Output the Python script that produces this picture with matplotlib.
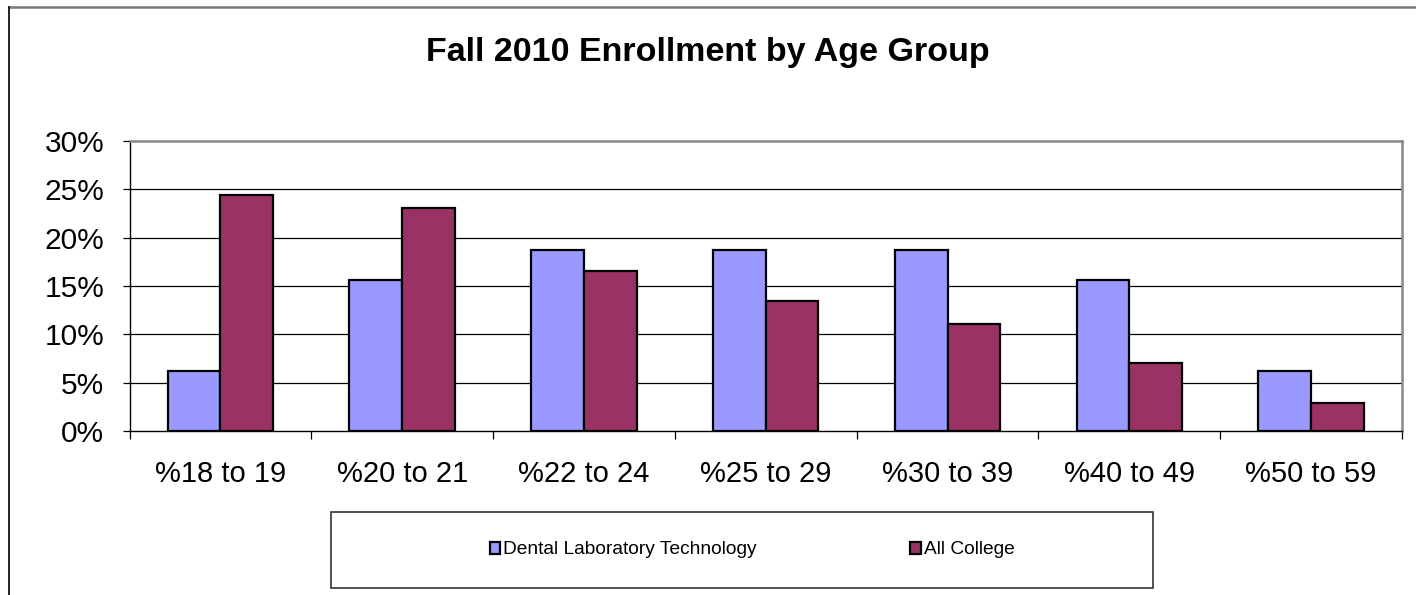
import matplotlib
matplotlib.use("Agg")
import matplotlib.pyplot as plt
import numpy as np
from matplotlib.patches import Rectangle
from matplotlib.lines import Line2D
from matplotlib.ticker import FixedLocator, FuncFormatter

categories = ["%18 to 19", "%20 to 21", "%22 to 24", "%25 to 29", "%30 to 39", "%40 to 49", "%50 to 59"]
dental = [6.25, 15.6, 18.75, 18.75, 18.75, 15.6, 6.25]
college = [24.4, 23.1, 16.5, 13.4, 11.1, 7.0, 2.9]
series_names = ["Dental Laboratory Technology", "All College"]
title = "Fall 2010 Enrollment by Age Group"

plt.rcParams['font.family'] = ['Liberation Sans', 'DejaVu Sans']

fig = plt.figure(figsize=(14.16, 5.95), dpi=100)
ax = fig.add_axes([129.5/1416, 1-431.3/595, (1402-129.5)/1416, (431.3-140.7)/595])

x = np.arange(len(categories))
w = 0.29
ax.bar(x - w/2, dental, w, color="#9999FF", edgecolor="black", linewidth=1.6, zorder=3, label=series_names[0])
ax.bar(x + w/2, college, w, color="#993366", edgecolor="black", linewidth=1.6, zorder=3, label=series_names[1])

ax.set_xlim(-0.5, len(categories) - 0.5)
ax.set_ylim(0, 30)
ax.set_yticks(np.arange(0, 31, 5))
ax.yaxis.set_major_formatter(FuncFormatter(lambda v, p: f"{int(v)}%"))
for yv in np.arange(5, 30, 5):
    ax.axhline(yv, color="black", linewidth=0.9, zorder=1)

ax.set_xticks(x)
ax.set_xticklabels(categories)
ax.xaxis.set_minor_locator(FixedLocator(np.arange(-0.5, len(categories), 1)))
ax.tick_params(axis="x", which="major", length=0, pad=21, labelsize=21)
ax.tick_params(axis="x", which="minor", length=6, width=0.9, color="black", direction="out")
ax.tick_params(axis="y", which="major", length=5, width=0.9, pad=13, labelsize=21.5, direction="out")

ax.spines["top"].set_color("#888888")
ax.spines["right"].set_color("#888888")
ax.spines["top"].set_linewidth(1.8)
ax.spines["right"].set_linewidth(1.8)
ax.spines["left"].set_color("black")
ax.spines["bottom"].set_color("black")
ax.spines["left"].set_linewidth(1.0)
ax.spines["bottom"].set_linewidth(1.0)

fig.text(0.5, 1 - 53/595, title, ha="center", va="center", fontsize=24.5, fontweight="bold")

# Figure border (top and left)
fig.add_artist(Line2D([9/1416, 1.0], [1 - 7/595, 1 - 7/595], color="#777777", linewidth=1.8, transform=fig.transFigure))
fig.add_artist(Line2D([9/1416, 9/1416], [0, 1 - 7/595], color="#222222", linewidth=1.4, transform=fig.transFigure))

# Legend box
lx0, lx1, ly0, ly1 = 331, 1153, 512, 588
fig.add_artist(Rectangle((lx0/1416, 1 - ly1/595), (lx1-lx0)/1416, (ly1-ly0)/595,
                         transform=fig.transFigure, facecolor="white", edgecolor="#333333", linewidth=1.2))
handles, labels = ax.get_legend_handles_labels()
leg = fig.legend(handles, labels, loc="center", bbox_to_anchor=(752/1416, 1 - 550/595), ncol=2,
                 frameon=False, fontsize=13.8, handlelength=0.55, handleheight=0.6,
                 handletextpad=0.15, columnspacing=8.0)

fig.savefig("out.png", dpi=100, facecolor="white")
